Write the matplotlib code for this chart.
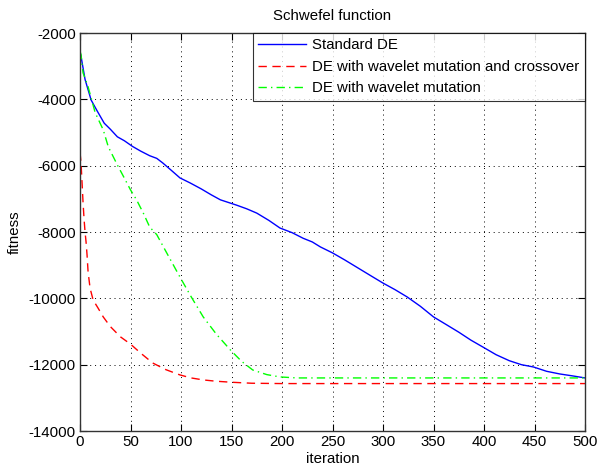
import matplotlib
matplotlib.use("Agg")
import matplotlib.pyplot as plt
import numpy as np

plt.rcParams['font.family'] = ['Liberation Sans', 'DejaVu Sans']

title = "Schwefel function"
xlabel = "iteration"
ylabel = "fitness"
labels = ["Standard DE", "DE with wavelet mutation and crossover", "DE with wavelet mutation"]

std_x = [0, 1, 5, 11, 17, 24, 30, 37, 44, 52, 60, 69, 76, 82, 90, 99, 109, 120, 130, 139, 148, 155, 165, 175, 187,
         198, 210, 221, 230, 238, 250, 262, 275, 288, 300, 312, 324, 337, 350, 362, 375, 387, 399, 412, 425, 437, 449,
         462, 475, 488, 500]
std_y = [-2600, -2700, -3400, -4020, -4350, -4720, -4900, -5130, -5250, -5420, -5560, -5700, -5780, -5920, -6130,
         -6370, -6520, -6700, -6880, -7030, -7120, -7190, -7300, -7430, -7650, -7880, -8020, -8190, -8300, -8450,
         -8630, -8840, -9080, -9320, -9540, -9740, -9960, -10240, -10560, -10780, -11020, -11260, -11470, -11700,
         -11880, -12000, -12070, -12200, -12280, -12340, -12400]

wmc_x = [0, 1, 2, 3, 4, 5, 6, 7, 8, 10, 13, 18, 23, 30, 40, 50, 60, 72, 85, 99, 110, 122, 135, 150, 170, 200, 250,
         300, 400, 500]
wmc_y = [-5600, -5900, -6500, -7100, -7600, -8000, -8300, -8700, -9200, -9700, -10050, -10300, -10560, -10850,
         -11160, -11380, -11650, -11950, -12150, -12310, -12400, -12460, -12500, -12530, -12560, -12570, -12570,
         -12570, -12570, -12570]

wm_x = [0, 1, 3, 8, 15, 23, 28, 37, 44, 50, 56, 63, 69, 76, 88, 99, 110, 122, 135, 149, 160, 171, 185, 198, 215,
        250, 300, 400, 500]
wm_y = [-2550, -2650, -3200, -3620, -4400, -4920, -5430, -5980, -6380, -6730, -7030, -7450, -7850, -8080, -8750,
        -9360, -9950, -10560, -11080, -11560, -11900, -12160, -12300, -12370, -12400, -12400, -12400, -12400,
        -12400]

xticks = [0, 50, 100, 150, 200, 250, 300, 350, 400, 450, 500]
yticks = [-14000, -12000, -10000, -8000, -6000, -4000, -2000]

fig = plt.figure(figsize=(5.97, 4.74), dpi=100)
ax = fig.add_axes([80/597, 1-431/474, (585-80)/597, (431-33)/474])

ax.plot(std_x, std_y, color='#0000ff', lw=1.0, ls='-', label=labels[0])
ax.plot(wmc_x, wmc_y, color='#ff0000', lw=1.0, ls=(0, (6, 4)), label=labels[1])
ax.plot(wm_x, wm_y, color='#00ff00', lw=1.0, ls=(0, (6, 3, 1, 3)), label=labels[2])

ax.set_xlim(0, 500)
ax.set_ylim(-14000, -2000)
ax.set_xticks(xticks)
ax.set_yticks(yticks)
ax.set_xticklabels([str(t) for t in xticks])
ax.set_yticklabels([str(t) for t in yticks])
ax.tick_params(direction='in', length=5, width=0.8, labelsize=10.8, top=True, right=True, pad=3)
ax.grid(True, color='black', ls=(0, (1, 4)), lw=0.7)
for s in ax.spines.values():
    s.set_linewidth(1.0)
    s.set_color('#333333')

ax.set_title(title, fontsize=10.8, pad=9)
ax.set_xlabel(xlabel, fontsize=10.8, labelpad=2)
ax.set_ylabel(ylabel, fontsize=10.8, labelpad=5)

leg = ax.legend(loc='upper right', bbox_to_anchor=(1.0, 1.0), fontsize=10.8, frameon=True, fancybox=False,
                handlelength=3.2, handletextpad=0.45, borderpad=0.35, labelspacing=0.5, borderaxespad=0.0)
leg.get_frame().set_edgecolor('black')
leg.get_frame().set_linewidth(0.8)

fig.savefig("out.png", dpi=100)
